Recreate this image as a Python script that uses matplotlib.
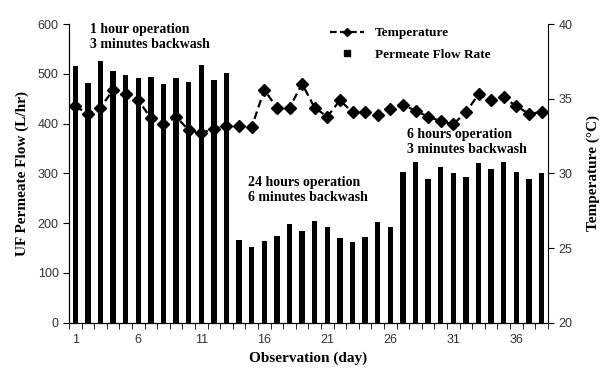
import matplotlib
matplotlib.use("Agg")
import matplotlib.pyplot as plt
from matplotlib.lines import Line2D
import numpy as np

# observation days
days = list(range(1, 39))

# UF permeate flow (L/hr)
flow = [516, 481, 526, 506, 498, 491, 493, 479, 492, 483, 518, 488, 501,
        166, 153, 164, 175, 198, 184, 205, 193, 170, 163, 173, 203, 193,
        303, 322, 288, 313, 300, 293, 320, 308, 322, 303, 288, 300]

# temperature (deg C)
temp = [34.5, 34.0, 34.4, 35.6, 35.3, 34.9, 33.7, 33.3, 33.8, 32.9, 32.7, 33.0, 33.2,
        33.2, 33.1, 35.6, 34.4, 34.4, 36.0, 34.4, 33.8, 34.9, 34.1, 34.1, 33.9, 34.3,
        34.6, 34.2, 33.8, 33.5, 33.3, 34.1, 35.3, 34.9, 35.1, 34.5, 34.0, 34.1]

xtick_days = [1, 6, 11, 16, 21, 26, 31, 36]

serif = "Liberation Serif"
sans = "Liberation Sans"

fig = plt.figure(figsize=(6.02, 3.71), dpi=100)
ax = fig.add_axes([0.1146, 0.130, 0.7954, 0.805])

ax.bar(days, flow, width=0.42, color="black", zorder=2)
ax.set_xlim(0.5, 38.5)
ax.set_ylim(0, 600)
ax.set_yticks(range(0, 601, 100))
ax.set_xticks(xtick_days)
ax.set_xticks(np.arange(0.5, 39, 1), minor=True)
ax.tick_params(axis="x", which="major", length=0, pad=8)
ax.tick_params(axis="x", which="minor", length=4, direction="out", color="black")
ax.tick_params(axis="y", length=4, direction="out")
for lab in ax.get_xticklabels() + ax.get_yticklabels():
    lab.set_fontfamily(sans)
    lab.set_fontsize(9)
    lab.set_color("#333333")
ax.spines["top"].set_visible(False)
ax.spines["right"].set_visible(False)
ax.set_xlabel("Observation (day)", fontfamily=serif, fontweight="bold", fontsize=11, labelpad=4)
ax.set_ylabel("UF Permeate Flow (L/hr)", fontfamily=serif, fontweight="bold", fontsize=11, labelpad=6)

ax2 = ax.twinx()
ax2.plot(days, temp, linestyle=(0, (3.5, 2)), color="black", linewidth=1.6,
         marker="D", markersize=6, zorder=3)
ax2.set_ylim(20, 40)
ax2.set_yticks(range(20, 41, 5))
ax2.tick_params(axis="y", length=4, direction="out")
for lab in ax2.get_yticklabels():
    lab.set_fontfamily(sans)
    lab.set_fontsize(9)
    lab.set_color("#333333")
ax2.spines["top"].set_visible(False)
ax2.set_ylabel("Temperature (\u00b0C)", fontfamily=serif, fontweight="bold", fontsize=11, labelpad=10)

# phase annotations
txt = dict(fontfamily=serif, fontweight="bold", fontsize=10, va="top", ha="left", linespacing=1.2)
ax.text(2.2, 603, "1 hour operation\n3 minutes backwash", **txt)
ax.text(14.7, 294, "24 hours operation\n6 minutes backwash", **txt)
ax.text(27.3, 391, "6 hours operation\n3 minutes backwash", **txt)

handles = [
    Line2D([], [], linestyle=(0, (3, 1.5)), color="black", linewidth=1.6, marker="D", markersize=4),
    Line2D([], [], linestyle="none", color="black", marker="s", markersize=5),
]
ax2.legend(handles, ["Temperature", "Permeate Flow Rate"], loc="upper left",
           bbox_to_anchor=(0.52, 1.03), frameon=False, handlelength=2.6,
           labelspacing=0.7, prop={"family": serif, "weight": "bold", "size": 9.5})

fig.savefig("out.png", dpi=100)
